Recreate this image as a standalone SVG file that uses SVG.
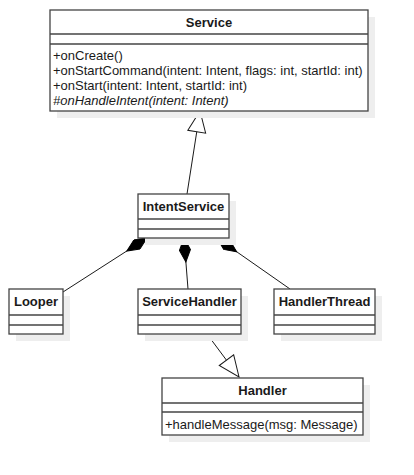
<svg xmlns="http://www.w3.org/2000/svg" width="414" height="475" viewBox="0 0 414 475">
<style>
.box{fill:#ffffff;stroke:#444444;stroke-width:1.3}
.sh{fill:#eeeeee;stroke:none}
.sep{stroke:#444444;stroke-width:1.3}
.hd{font-family:"Liberation Sans",Arial,sans-serif;font-size:13px;font-weight:bold;fill:#1a1a1a;text-anchor:middle}
.op{font-family:"Liberation Sans",Arial,sans-serif;font-size:13px;fill:#1a1a1a}
.it{font-style:italic}
.ln{fill:none;stroke:#1a1a1a;stroke-width:1}
</style>
<defs>
<marker id="gen" markerUnits="userSpaceOnUse" viewBox="0 0 24 20" markerWidth="24" markerHeight="20" refX="22" refY="10" orient="auto">
<path d="M1,1 L22,10 L1,19 Z" fill="#ffffff" stroke="#1a1a1a" stroke-width="1"/>
</marker>
<marker id="comp" markerUnits="userSpaceOnUse" viewBox="0 0 26 12" markerWidth="26" markerHeight="12" refX="1" refY="6" orient="auto">
<path d="M1,6 L13,0.5 L25,6 L13,11.5 Z" fill="#000000" stroke="#000000" stroke-width="1"/>
</marker>
</defs>
<g id="connectors">
<line class="ln" x1="187" y1="194" x2="200" y2="111" marker-end="url(#gen)"/>
<line class="ln" x1="207" y1="334" x2="239" y2="377" marker-end="url(#gen)"/>
<line class="ln" x1="147" y1="238" x2="63" y2="292" marker-start="url(#comp)"/>
<line class="ln" x1="184" y1="238" x2="188" y2="289" marker-start="url(#comp)"/>
<line class="ln" x1="217" y1="238" x2="290" y2="289" marker-start="url(#comp)"/>
</g>
<g id="Service">
<rect class="sh" x="57" y="17" width="318" height="101"/>
<rect class="box" x="50" y="10" width="318" height="101"/>
<line class="sep" x1="50" y1="34" x2="368" y2="34"/>
<line class="sep" x1="50" y1="44" x2="368" y2="44"/>
<text class="hd" x="209" y="27">Service</text>
<text class="op" x="53" y="60">+onCreate()</text>
<text class="op" x="53" y="75">+onStartCommand(intent: Intent, flags: int, startId: int)</text>
<text class="op" x="53" y="90">+onStart(intent: Intent, startId: int)</text>
<text class="op it" x="53" y="105">#onHandleIntent(intent: Intent)</text>
</g>
<g id="IntentService">
<rect class="sh" x="145" y="201" width="91" height="44"/>
<rect class="box" x="138" y="194" width="91" height="44"/>
<line class="sep" x1="138" y1="219" x2="229" y2="219"/>
<line class="sep" x1="138" y1="229" x2="229" y2="229"/>
<text class="hd" x="183.5" y="211">IntentService</text>
</g>
<g id="Looper">
<rect class="sh" x="16" y="296" width="54" height="45"/>
<rect class="box" x="9" y="289" width="54" height="45"/>
<line class="sep" x1="9" y1="315" x2="63" y2="315"/>
<line class="sep" x1="9" y1="325" x2="63" y2="325"/>
<text class="hd" x="36" y="306">Looper</text>
</g>
<g id="ServiceHandler">
<rect class="sh" x="145" y="296" width="103" height="45"/>
<rect class="box" x="138" y="289" width="103" height="45"/>
<line class="sep" x1="138" y1="315" x2="241" y2="315"/>
<line class="sep" x1="138" y1="325" x2="241" y2="325"/>
<text class="hd" x="189.5" y="306">ServiceHandler</text>
</g>
<g id="HandlerThread">
<rect class="sh" x="281" y="296" width="101" height="45"/>
<rect class="box" x="274" y="289" width="101" height="45"/>
<line class="sep" x1="274" y1="315" x2="375" y2="315"/>
<line class="sep" x1="274" y1="325" x2="375" y2="325"/>
<text class="hd" x="324.5" y="306">HandlerThread</text>
</g>
<g id="Handler">
<rect class="sh" x="169" y="385" width="201" height="57"/>
<rect class="box" x="162" y="378" width="201" height="57"/>
<line class="sep" x1="162" y1="403" x2="363" y2="403"/>
<line class="sep" x1="162" y1="412" x2="363" y2="412"/>
<text class="hd" x="262.5" y="395">Handler</text>
<text class="op" x="165" y="429">+handleMessage(msg: Message)</text>
</g>
</svg>
